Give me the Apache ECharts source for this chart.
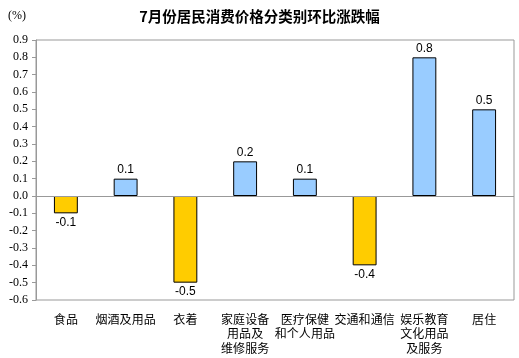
<!DOCTYPE html>
<html><head><meta charset="utf-8">
<script src="https://cdn.jsdelivr.net/npm/echarts@6/dist/echarts.min.js"></script>
<style>html,body{margin:0;padding:0;background:#fff}#c{width:519px;height:358px}</style>
</head><body><div id="c"></div>
<script>
const categories = ['食品','烟酒及用品','衣着','家庭设备\n用品及\n维修服务','医疗保健\n和个人用品','交通和通信','娱乐教育\n文化用品\n及服务','居住'];
const values = [-0.1, 0.1, -0.5, 0.2, 0.1, -0.4, 0.8, 0.5];
const yTicks = {min: -0.6, max: 0.9, step: 0.1};
const chart = echarts.init(document.getElementById('c'));
chart.setOption({
  animation: false,
  title: {text: '7月份居民消费价格分类别环比涨跌幅', left: 'center', top: 4,
    textStyle: {fontFamily: 'Noto Sans CJK SC', fontSize: 14.5, fontWeight: 'bold', color: '#000'}},
  graphic: [{type: 'text', left: 8, top: 10, style: {text: '(%)', fontFamily: 'Liberation Serif', fontSize: 12, fill: '#000'}}],
  grid: {left: 36, right: 5, top: 40, bottom: 58, show: true, borderColor: '#999', borderWidth: 1},
  xAxis: {type: 'category', data: categories,
    axisLine: {show: false, onZero: false}, axisTick: {show: false},
    axisLabel: {interval: 0, margin: 12, fontFamily: 'Noto Sans CJK SC', fontSize: 12, color: '#000', lineHeight: 14.5}},
  yAxis: {type: 'value', min: yTicks.min, max: yTicks.max, interval: yTicks.step,
    axisLine: {show: true, lineStyle: {color: '#999'}},
    axisTick: {show: true, length: 4, lineStyle: {color: '#999'}},
    splitLine: {show: false},
    axisLabel: {formatter: v => v.toFixed(1), fontFamily: 'Liberation Serif', fontSize: 12, color: '#000', margin: 8}},
  series: [{type: 'bar', barWidth: '40%',
    data: values.map(v => ({value: v, itemStyle: {color: v < 0 ? '#FFCC00' : '#99CCFF', borderColor: '#000', borderWidth: 1}})),
    label: {show: true, position: 'outside', formatter: p => p.value.toFixed(1), fontFamily: 'Liberation Sans', fontSize: 12, color: '#000', distance: 3},
    markLine: {silent: true, symbol: 'none', label: {show: false}, lineStyle: {color: '#999', type: 'solid', width: 1}, data: [{yAxis: 0}]}
  }]
});
</script></body></html>
